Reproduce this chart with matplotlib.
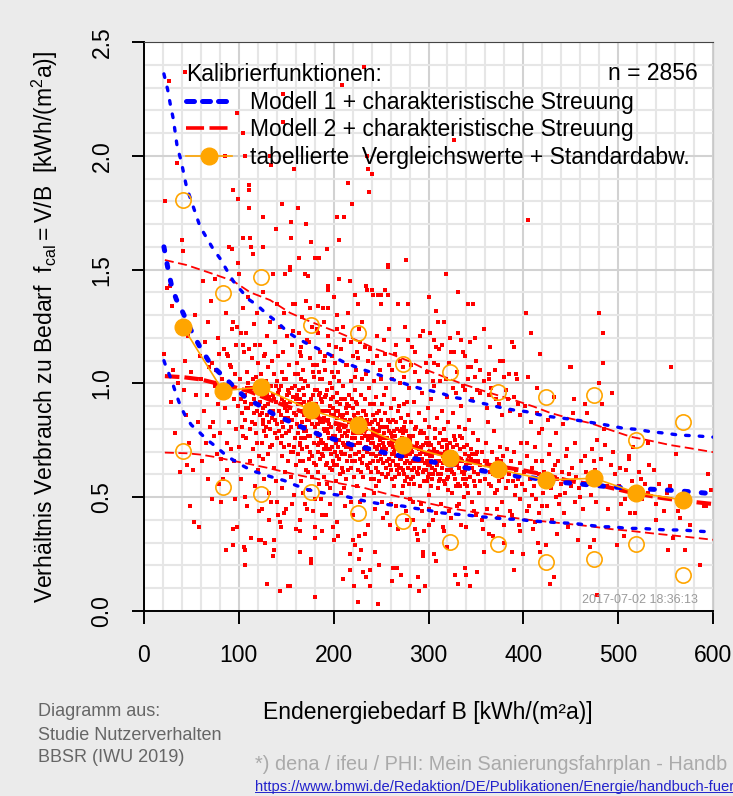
"""
Kalibrierfunktionen: Verhältnis Verbrauch zu Bedarf vs. Endenergiebedarf
"""

import matplotlib

matplotlib.use("Agg")
import matplotlib.pyplot as plt
from matplotlib.lines import Line2D
from matplotlib.ticker import MultipleLocator

plt.rcParams["font.family"] = ["Liberation Sans", "DejaVu Sans"]

# ── Theme ──────────────────────────────────────────────
BG = "#EBEBEB"
RED = "#FF0000"
BLUE = "#0000FF"
ORANGE = "#FFA500"

# ── Data: measured buildings (hand-read sample of the cloud) ──
cloud_020_100 = [
    (21, 1.13), (22, 1.80), (24, 1.42), (26, 2.33), (27, 1.43), (28, 0.92), (30, 1.34), (31, 1.06),
    (33, 0.78), (35, 1.97), (36, 1.00), (38, 0.61), (40, 1.63), (41, 1.58), (42, 0.97), (43, 1.10),
    (43, 2.37), (44, 0.86), (45, 0.64), (46, 1.21), (47, 0.74), (49, 0.46), (50, 1.05), (52, 0.62),
    (53, 0.39), (54, 1.30), (55, 0.95), (57, 0.83), (58, 0.37), (59, 1.12), (60, 1.02), (61, 0.66),
    (62, 1.45), (63, 0.88), (64, 1.18), (65, 0.74), (66, 0.95), (67, 1.27), (68, 0.58), (69, 1.07),
    (70, 0.81), (71, 1.36), (72, 0.49), (72, 1.09), (73, 0.83), (74, 0.77), (75, 1.46), (75, 0.99),
    (76, 1.06), (77, 0.69), (78, 1.20), (78, 0.91), (79, 0.56), (79, 1.13), (80, 0.78), (81, 0.67),
    (81, 0.48), (82, 1.02), (83, 0.58), (84, 1.15), (85, 2.00), (85, 0.89), (86, 0.27), (86, 1.31),
    (87, 0.74), (88, 0.62), (88, 1.13), (89, 1.12), (89, 0.96), (90, 1.60), (90, 0.83), (91, 1.08),
    (92, 1.07), (92, 0.71), (93, 1.59), (93, 1.24), (94, 1.85), (94, 0.36), (94, 0.29), (94, 1.27),
    (95, 0.93), (95, 0.66), (96, 0.49), (96, 1.04), (97, 0.80), (97, 1.17), (98, 2.19), (98, 0.37),
    (98, 1.25), (99, 0.90), (99, 1.53), (99, 1.81), (100, 0.72),
]
cloud_100_160 = [
    (100, 1.48), (101, 1.02), (102, 1.22), (102, 0.58), (103, 0.87), (104, 1.33), (104, 2.10), (104, 1.64),
    (104, 1.17), (105, 0.28), (105, 1.14), (106, 2.00), (106, 0.50), (106, 0.20), (107, 0.95), (107, 0.27),
    (108, 1.22), (108, 0.76), (109, 0.46), (109, 1.05), (110, 0.89), (110, 1.38), (111, 1.15), (111, 1.87),
    (111, 1.85), (111, 1.77), (112, 1.64), (112, 0.66), (113, 1.60), (113, 0.32), (113, 0.98), (114, 1.11),
    (114, 0.83), (115, 1.57), (115, 0.71), (116, 1.26), (116, 0.93), (117, 1.17), (117, 0.55), (118, 1.03),
    (118, 0.78), (119, 0.88), (119, 1.31), (120, 1.09), (120, 0.62), (120, 0.97), (110, 1.00), (103, 0.81),
    (107, 0.92), (115, 1.02), (121, 0.44), (121, 0.31), (122, 1.17), (122, 0.86), (123, 0.31), (123, 1.04),
    (124, 0.74), (124, 0.95), (125, 1.40), (125, 0.67), (126, 1.73), (126, 1.60), (126, 0.82), (127, 1.12),
    (127, 0.58), (128, 1.13), (128, 0.30), (128, 0.90), (129, 1.01), (129, 0.77), (130, 0.12), (130, 1.21),
    (130, 0.86), (131, 0.69), (131, 1.07), (132, 0.94), (132, 0.52), (133, 2.00), (133, 0.80), (133, 1.27),
    (134, 1.96), (134, 0.48), (134, 0.99), (135, 0.73), (135, 1.10), (136, 1.48), (136, 0.24), (136, 0.88),
    (137, 0.31), (137, 0.27), (137, 1.04), (137, 0.63), (138, 0.84), (138, 1.18), (139, 1.68), (139, 0.92),
    (139, 0.57), (140, 1.35), (140, 0.76), (140, 1.01), (124, 0.87), (128, 0.98), (132, 0.83), (136, 0.95),
    (131, 0.91), (141, 0.42), (141, 1.12), (142, 0.79), (142, 0.97), (143, 0.39), (143, 0.09), (143, 1.25),
    (144, 0.37), (144, 0.86), (145, 1.79), (145, 0.68), (145, 1.05), (146, 0.93), (146, 0.54), (147, 2.27),
    (147, 2.15), (147, 0.81), (147, 1.14), (148, 0.72), (148, 1.31), (149, 1.48), (149, 0.89), (149, 0.61),
    (150, 1.02), (150, 0.45), (150, 0.78), (151, 0.95), (151, 1.21), (152, 0.11), (152, 0.66), (152, 0.85),
    (153, 1.08), (153, 0.73), (154, 1.51), (154, 1.50), (154, 0.11), (154, 0.92), (155, 1.71), (155, 1.64),
    (155, 0.59), (155, 0.81), (156, 1.17), (156, 0.98), (157, 0.70), (157, 1.35), (157, 1.23), (158, 1.94),
    (158, 0.87), (158, 0.51), (159, 1.04), (159, 0.76), (159, 1.35), (160, 0.36), (160, 0.93), (160, 0.64),
    (144, 0.99), (148, 0.92), (151, 0.88), (156, 0.84), (153, 0.96),
]
cloud_160_220 = [
    (161, 1.09), (161, 0.82), (162, 1.77), (162, 0.69), (163, 1.55), (163, 0.97), (164, 0.26), (164, 0.88),
    (165, 0.40), (165, 1.14), (165, 0.74), (166, 1.02), (166, 0.57), (166, 0.91), (167, 0.83), (167, 1.29),
    (168, 0.66), (168, 1.06), (169, 0.79), (169, 0.95), (170, 1.48), (170, 0.47), (171, 1.70), (171, 1.36),
    (171, 0.87), (172, 0.72), (172, 1.19), (173, 1.47), (173, 0.99), (173, 0.61), (174, 0.84), (174, 0.53),
    (175, 1.11), (175, 0.77), (176, 1.62), (176, 0.23), (176, 0.21), (176, 0.93), (177, 0.68), (177, 1.25),
    (178, 0.86), (178, 0.44), (179, 1.03), (179, 0.74), (180, 0.06), (180, 0.37), (180, 0.32), (180, 1.55),
    (180, 0.81), (180, 0.97), (162, 0.78), (164, 0.93), (167, 0.71), (169, 0.86), (172, 0.90), (174, 0.67),
    (177, 0.82), (179, 0.89), (163, 1.22), (168, 0.52), (171, 0.62), (175, 1.33), (178, 1.08), (166, 1.16),
    (170, 0.76), (181, 0.91), (181, 0.64), (182, 1.08), (182, 0.78), (183, 0.86), (183, 1.22), (184, 1.34),
    (184, 0.70), (185, 1.55), (185, 0.95), (185, 0.56), (186, 0.83), (186, 1.14), (187, 0.75), (187, 0.49),
    (188, 0.35), (188, 0.92), (188, 1.02), (189, 1.33), (189, 0.68), (190, 0.80), (190, 1.27), (190, 0.59),
    (191, 0.88), (191, 1.06), (192, 0.73), (192, 0.42), (193, 1.59), (193, 0.97), (193, 0.65), (194, 1.41),
    (194, 1.33), (194, 1.43), (194, 0.84), (195, 0.76), (195, 1.17), (196, 0.54), (196, 0.90), (196, 1.00),
    (197, 0.69), (197, 0.81), (198, 1.12), (198, 0.62), (199, 0.37), (199, 0.94), (199, 0.77), (200, 1.38),
    (200, 0.31), (200, 0.86), (200, 1.03), (182, 0.97), (184, 0.82), (187, 0.88), (189, 0.74), (191, 0.79),
    (192, 0.95), (194, 0.71), (195, 0.88), (197, 0.93), (198, 0.72), (183, 0.61), (186, 0.67), (190, 0.71),
    (193, 0.56), (196, 0.63), (199, 0.66), (185, 1.05), (191, 1.12), (201, 0.70), (201, 1.09), (202, 0.82),
    (202, 0.57), (203, 0.96), (203, 1.24), (204, 1.73), (204, 1.30), (204, 0.75), (205, 0.33), (205, 0.88),
    (205, 1.05), (206, 1.63), (206, 1.46), (206, 0.67), (207, 0.91), (207, 0.79), (208, 1.15), (208, 0.52),
    (209, 2.31), (209, 0.85), (209, 0.63), (210, 0.14), (210, 0.99), (210, 0.74), (211, 1.73), (211, 0.81),
    (211, 1.19), (212, 0.69), (212, 0.93), (213, 0.58), (213, 1.08), (214, 0.77), (214, 0.87), (215, 1.31),
    (215, 1.88), (215, 0.62), (216, 0.95), (216, 0.72), (217, 1.45), (217, 0.18), (217, 0.25), (217, 0.84),
    (218, 0.48), (218, 1.01), (219, 1.79), (219, 0.76), (219, 0.66), (220, 0.31), (220, 0.89), (220, 1.12),
    (202, 0.74), (204, 0.92), (206, 0.81), (208, 0.70), (210, 0.86), (212, 0.78), (214, 0.66), (216, 0.83),
    (218, 0.71), (219, 0.93), (203, 0.64), (207, 0.60), (211, 0.54), (213, 0.89), (215, 0.79), (209, 0.77),
    (205, 0.72),
]
cloud_220_300 = [
    (221, 0.11), (221, 0.73), (222, 0.85), (222, 0.29), (223, 1.39), (223, 0.66), (224, 0.92), (224, 1.06),
    (225, 0.78), (225, 0.55), (226, 1.35), (226, 0.04), (226, 0.87), (227, 0.23), (227, 0.33), (227, 0.70),
    (228, 1.18), (228, 0.82), (229, 0.27), (229, 0.61), (229, 0.95), (230, 0.76), (230, 1.02), (231, 0.17),
    (231, 0.88), (231, 0.68), (232, 2.39), (232, 0.79), (232, 0.51), (233, 0.34), (233, 0.93), (234, 0.15),
    (234, 1.43), (234, 0.72), (235, 1.41), (235, 2.00), (235, 0.84), (236, 1.94), (236, 0.63), (236, 1.10),
    (237, 1.84), (237, 0.77), (238, 0.11), (238, 0.18), (238, 0.91), (239, 0.69), (239, 0.58), (240, 1.92),
    (240, 1.41), (240, 0.83), (222, 0.76), (224, 0.69), (226, 0.74), (228, 0.67), (230, 0.81), (232, 0.71),
    (234, 0.80), (236, 0.75), (238, 0.82), (239, 0.74), (223, 0.97), (225, 1.14), (227, 1.24), (229, 0.85),
    (233, 1.16), (235, 0.64), (237, 0.98), (221, 0.59), (241, 1.39), (241, 0.66), (242, 0.86), (242, 0.74),
    (243, 0.52), (243, 1.01), (244, 0.26), (244, 0.78), (245, 0.94), (245, 0.63), (246, 1.12), (246, 0.71),
    (247, 1.39), (247, 0.03), (247, 0.82), (248, 0.20), (248, 0.57), (248, 0.88), (249, 0.69), (249, 1.06),
    (250, 1.35), (250, 1.39), (250, 0.76), (251, 0.48), (251, 0.91), (252, 0.81), (252, 0.65), (253, 1.19),
    (253, 0.72), (254, 1.41), (254, 0.87), (255, 0.59), (255, 0.98), (256, 0.76), (256, 0.43), (257, 1.52),
    (257, 1.51), (257, 1.39), (257, 0.84), (258, 0.67), (258, 1.08), (259, 0.73), (259, 0.38), (260, 0.89),
    (260, 0.62), (242, 0.69), (244, 0.84), (246, 0.79), (248, 0.73), (250, 0.67), (252, 0.74), (254, 0.69),
    (256, 0.81), (258, 0.79), (243, 0.91), (245, 0.55), (247, 0.66), (249, 0.81), (251, 0.60), (253, 0.95),
    (255, 0.71), (259, 0.64), (261, 0.13), (261, 0.77), (262, 0.69), (262, 1.02), (263, 0.19), (263, 0.84),
    (264, 0.55), (264, 0.93), (265, 1.13), (265, 0.71), (266, 0.64), (266, 0.46), (267, 0.19), (267, 0.80),
    (268, 1.35), (268, 0.88), (269, 0.60), (269, 0.73), (270, 1.00), (270, 0.67), (271, 0.16), (271, 0.85),
    (272, 0.52), (272, 0.76), (273, 1.07), (273, 0.62), (274, 0.91), (274, 0.70), (275, 1.25), (275, 0.57),
    (276, 1.54), (276, 0.79), (277, 0.40), (277, 0.66), (278, 1.35), (278, 0.86), (279, 0.72), (279, 0.98),
    (280, 0.49), (280, 0.74), (262, 0.74), (264, 0.70), (266, 0.83), (268, 0.64), (270, 0.79), (272, 0.68),
    (274, 0.60), (276, 0.73), (278, 0.63), (263, 0.66), (265, 0.59), (267, 0.72), (269, 0.90), (271, 0.63),
    (273, 0.78), (275, 0.83), (277, 0.92), (279, 0.56), (281, 0.11), (281, 0.65), (282, 0.83), (282, 0.58),
    (283, 1.16), (283, 0.70), (284, 0.77), (284, 0.48), (285, 0.92), (285, 0.63), (286, 1.05), (286, 0.36),
    (287, 0.68), (287, 0.81), (288, 0.34), (288, 0.74), (289, 0.31), (289, 0.15), (289, 0.60), (290, 0.09),
    (290, 0.87), (290, 0.71), (291, 1.21), (291, 0.55), (292, 0.66), (292, 0.79), (293, 0.96), (293, 0.44),
    (294, 0.26), (294, 0.24), (294, 0.73), (295, 0.35), (295, 0.62), (296, 0.11), (296, 0.84), (297, 0.69),
    (297, 1.09), (298, 0.57), (298, 0.76), (299, 0.64), (299, 0.89), (300, 1.38), (300, 0.70), (300, 0.51),
    (284, 0.66), (286, 0.72), (288, 0.61), (291, 0.69), (293, 0.67), (295, 0.78), (297, 0.62), (299, 0.73),
]
cloud_300_400 = [
    (301, 0.45), (301, 0.81), (302, 1.22), (302, 0.64), (303, 0.73), (303, 0.93), (304, 0.58), (304, 0.68),
    (305, 1.01), (305, 0.40), (306, 1.09), (306, 1.19), (306, 0.25), (307, 0.76), (307, 0.62), (308, 1.32),
    (308, 1.16), (308, 0.22), (309, 0.70), (309, 0.85), (310, 1.27), (310, 0.54), (311, 1.15), (311, 0.66),
    (312, 1.01), (312, 0.78), (313, 0.47), (313, 0.60), (314, 0.72), (314, 0.88), (315, 0.37), (315, 0.65),
    (316, 1.27), (316, 0.80), (317, 0.56), (317, 0.69), (318, 1.48), (318, 0.75), (319, 0.28), (319, 0.62),
    (320, 0.94), (320, 0.71), (303, 0.66), (307, 0.70), (311, 0.74), (315, 0.68), (321, 0.59), (321, 0.83),
    (322, 0.67), (322, 0.44), (323, 1.20), (323, 0.74), (324, 1.14), (324, 0.62), (325, 0.70), (325, 0.52),
    (326, 0.87), (326, 0.64), (327, 2.07), (327, 1.14), (327, 0.77), (328, 0.16), (328, 0.58), (329, 0.68),
    (329, 0.96), (330, 0.73), (330, 0.46), (331, 1.40), (331, 1.22), (331, 0.12), (332, 0.63), (332, 0.81),
    (333, 0.55), (333, 0.71), (334, 0.90), (334, 0.38), (335, 0.66), (335, 0.76), (336, 1.14), (336, 0.99),
    (337, 0.60), (337, 0.50), (338, 1.12), (338, 0.69), (339, 0.19), (339, 0.80), (340, 0.16), (340, 0.64),
    (341, 0.73), (341, 0.55), (342, 1.35), (342, 1.07), (343, 0.68), (343, 0.84), (344, 1.18), (344, 0.11),
    (344, 0.59), (345, 1.07), (345, 0.71), (346, 0.48), (346, 0.63), (347, 1.35), (347, 0.78), (348, 0.57),
    (348, 0.66), (349, 1.20), (349, 1.03), (350, 0.69), (350, 0.42), (351, 0.97), (351, 0.17), (352, 0.60),
    (352, 0.75), (353, 0.52), (354, 1.06), (354, 0.64), (356, 0.70), (357, 0.36), (358, 0.26), (359, 1.24),
    (360, 0.58), (361, 0.74), (362, 0.66), (362, 0.45), (363, 0.83), (364, 1.04), (364, 1.02), (364, 0.95),
    (365, 1.16), (365, 0.61), (366, 0.55), (367, 0.70), (368, 0.33), (368, 0.64), (369, 0.79), (370, 0.52),
    (371, 0.93), (371, 0.60), (372, 0.67), (373, 0.41), (374, 0.57), (375, 1.10), (375, 0.72), (376, 0.63),
    (377, 0.48), (378, 0.59), (379, 1.10), (379, 0.68), (380, 1.03), (380, 0.30), (381, 0.62), (382, 0.54),
    (383, 0.71), (384, 0.93), (385, 1.04), (385, 0.60), (386, 0.44), (387, 0.66), (388, 1.18), (388, 0.26),
    (389, 0.57), (390, 1.16), (390, 0.18), (390, 0.70), (391, 0.51), (392, 1.04), (392, 0.62), (393, 1.02),
    (394, 0.91), (394, 0.58), (395, 0.38), (396, 0.65), (397, 0.49), (398, 0.74), (399, 0.56), (400, 0.25),
]
cloud_400_600 = [
    (401, 0.61), (402, 0.53), (403, 1.31), (404, 0.68), (405, 1.72), (405, 1.03), (406, 0.46), (407, 0.58),
    (408, 1.22), (409, 0.63), (410, 0.36), (411, 0.55), (412, 0.72), (413, 0.49), (414, 0.98), (415, 0.30),
    (416, 0.60), (417, 0.43), (418, 1.13), (418, 0.26), (419, 0.57), (420, 0.66), (421, 0.52), (422, 0.61),
    (424, 0.29), (425, 0.46), (426, 0.57), (427, 0.69), (428, 0.12), (429, 0.54), (430, 0.40), (431, 0.62),
    (432, 0.94), (432, 0.15), (434, 0.50), (435, 0.58), (436, 0.34), (437, 0.66), (438, 0.47), (440, 0.56),
    (441, 0.61), (443, 0.43), (444, 0.52), (446, 0.71), (447, 0.37), (449, 1.07), (450, 1.07), (450, 0.55),
    (451, 0.63), (452, 0.87), (453, 0.93), (454, 0.48), (456, 0.59), (458, 0.31), (459, 0.54), (461, 0.66),
    (463, 0.45), (465, 0.91), (465, 0.68), (467, 0.87), (468, 0.57), (470, 0.28), (471, 0.51), (474, 0.66),
    (475, 0.31), (476, 0.62), (478, 0.75), (478, 0.07), (480, 1.00), (480, 1.31), (481, 0.58), (483, 0.91),
    (484, 1.22), (484, 1.09), (485, 0.80), (486, 0.73), (489, 0.45), (492, 0.64), (493, 0.96), (497, 0.60),
    (499, 0.29), (501, 0.55), (503, 0.47), (506, 0.33), (508, 0.62), (511, 0.68), (511, 0.67), (513, 0.43),
    (515, 0.57), (518, 0.43), (519, 0.52), (522, 0.61), (525, 0.49), (528, 0.56), (531, 0.74), (531, 0.52),
    (533, 0.64), (538, 0.62), (540, 0.40), (540, 0.47), (543, 0.56), (548, 0.44), (552, 0.52), (553, 0.27),
    (555, 0.55), (556, 1.07), (558, 0.32), (561, 0.69), (563, 0.44), (565, 0.41), (567, 0.46), (571, 0.27),
    (576, 0.38), (586, 0.20), (590, 0.46), (593, 0.46), (595, 0.60), (598, 0.53),
]
# densest part of the cloud (roughly 100-390 kWh, ratio 0.5-1.0)
cloud_core = [
    (142, 0.88), (146, 0.83), (150, 0.91), (153, 0.79), (157, 0.94), (160, 0.86), (163, 0.81), (166, 0.76),
    (169, 0.92), (172, 0.84), (175, 0.70), (178, 0.95), (181, 0.87), (184, 0.77), (187, 0.93), (190, 0.85),
    (193, 0.80), (196, 0.71), (199, 0.89), (202, 0.88), (205, 0.80), (208, 0.93), (211, 0.73), (214, 0.91),
    (217, 0.68), (220, 0.78), (223, 0.83), (226, 0.62), (229, 0.78), (232, 0.88), (235, 0.70), (238, 0.65),
    (241, 0.80), (244, 0.72), (247, 0.61), (250, 0.84), (253, 0.78), (256, 0.66), (259, 0.83), (262, 0.58),
    (265, 0.77), (268, 0.71), (271, 0.67), (274, 0.81), (277, 0.59), (280, 0.69), (283, 0.62), (286, 0.80),
    (289, 0.67), (292, 0.72), (295, 0.57), (298, 0.66), (301, 0.74), (304, 0.63), (307, 0.80), (310, 0.60),
    (313, 0.69), (316, 0.57), (319, 0.73), (322, 0.64), (325, 0.61), (328, 0.75), (331, 0.56), (334, 0.67),
    (337, 0.72), (340, 0.58), (343, 0.63), (346, 0.69), (349, 0.55), (352, 0.66), (144, 0.74), (148, 1.02),
    (152, 0.97), (155, 0.70), (159, 0.99), (162, 0.91), (165, 0.66), (168, 0.98), (171, 0.79), (174, 0.92),
    (177, 0.59), (180, 0.89), (183, 0.73), (186, 0.96), (189, 0.83), (192, 0.64), (195, 0.82), (198, 0.98),
    (201, 0.77), (204, 0.68), (207, 0.86), (210, 0.61), (213, 0.72), (216, 0.90), (219, 0.82), (222, 0.69),
    (225, 0.91), (228, 0.74), (231, 0.59), (234, 0.86), (237, 0.71), (240, 0.76), (243, 0.58), (246, 0.87),
    (249, 0.75), (252, 0.70), (255, 0.63), (258, 0.74), (261, 0.69), (264, 0.79), (267, 0.62), (270, 0.72),
    (273, 0.55), (276, 0.68), (279, 0.77), (282, 0.71), (285, 0.56), (288, 0.66), (291, 0.78), (294, 0.61),
    (297, 0.74), (300, 0.60), (303, 0.55), (306, 0.71), (309, 0.64), (312, 0.58), (315, 0.75), (318, 0.66),
    (321, 0.53), (324, 0.68), (327, 0.60), (330, 0.64), (333, 0.77), (336, 0.58), (339, 0.62), (342, 0.52),
    (345, 0.67), (348, 0.61), (351, 0.70), (354, 0.57), (141, 0.96), (145, 0.77), (149, 0.85), (154, 0.89),
    (158, 0.72), (161, 0.95), (164, 0.73), (167, 0.88), (170, 0.81), (173, 0.77), (176, 0.86), (179, 0.65),
    (182, 0.82), (185, 0.74), (188, 0.69), (191, 0.94), (194, 0.78), (197, 0.86), (200, 0.64), (203, 0.85),
    (206, 0.75), (209, 0.69), (212, 0.84), (215, 0.74), (218, 0.63), (221, 0.86), (224, 0.78), (227, 0.81),
    (230, 0.65), (233, 0.77), (236, 0.82), (239, 0.61), (242, 0.78), (245, 0.68), (248, 0.79), (251, 0.71),
    (254, 0.76), (257, 0.60), (260, 0.78), (263, 0.72), (266, 0.68), (269, 0.63), (272, 0.80), (275, 0.65),
    (278, 0.70), (281, 0.75), (284, 0.59), (287, 0.72), (290, 0.63), (293, 0.70), (296, 0.65), (299, 0.59),
    (302, 0.68), (305, 0.60), (308, 0.66), (311, 0.57), (314, 0.63), (317, 0.70), (320, 0.58), (323, 0.66),
    (326, 0.72), (329, 0.55), (332, 0.66), (335, 0.61), (338, 0.56), (344, 0.65), (356, 0.62), (360, 0.66),
    (364, 0.56), (368, 0.60), (372, 0.53), (376, 0.66), (384, 0.57), (392, 0.55), (102, 0.93), (106, 0.84),
    (109, 0.98), (112, 0.80), (116, 0.87), (119, 0.74), (122, 0.92), (125, 0.84), (127, 0.79), (130, 0.95),
    (133, 0.72), (135, 0.85), (138, 0.78), (139, 0.99), (104, 0.77), (108, 0.89), (113, 0.91), (117, 0.82),
    (121, 0.68), (126, 0.89), (129, 0.81), (134, 0.88), (137, 0.93), (140, 0.82),
]
# shoulders of the cloud above and below the core
cloud_shoulders = [
    (162, 1.04), (166, 1.12), (170, 1.01), (174, 1.18), (178, 1.05), (182, 1.24), (186, 1.02), (190, 1.10),
    (194, 1.21), (198, 1.05), (202, 1.16), (206, 1.01), (210, 1.25), (214, 1.08), (218, 1.18), (222, 1.03),
    (226, 1.11), (230, 1.27), (234, 1.04), (238, 1.15), (242, 1.09), (246, 1.21), (250, 1.02), (254, 1.13),
    (258, 1.24), (262, 1.06), (266, 1.17), (270, 1.10), (274, 1.03), (278, 1.19), (282, 1.08), (286, 1.14),
    (290, 1.01), (294, 1.23), (298, 1.05), (302, 1.12), (306, 0.99), (310, 1.08), (314, 1.17), (318, 1.02),
    (322, 1.09), (326, 0.98), (330, 1.05), (334, 1.19), (338, 0.97), (342, 1.02), (346, 0.93), (350, 1.10),
    (354, 0.96), (358, 1.01), (362, 0.89), (366, 0.98), (370, 1.06), (374, 0.91), (378, 0.86), (382, 0.97),
    (386, 0.88), (390, 0.94), (396, 0.86), (402, 0.90), (408, 0.83), (414, 0.87), (420, 0.80), (426, 0.84),
    (434, 0.78), (442, 0.82), (124, 0.45), (132, 0.40), (140, 0.48), (148, 0.43), (156, 0.47), (164, 0.35),
    (172, 0.45), (180, 0.49), (188, 0.42), (196, 0.47), (204, 0.39), (212, 0.46), (220, 0.42), (228, 0.48),
    (236, 0.38), (244, 0.45), (252, 0.41), (260, 0.47), (268, 0.36), (276, 0.44), (284, 0.40), (292, 0.47),
    (300, 0.38), (308, 0.43), (316, 0.35), (324, 0.41), (332, 0.47), (340, 0.37), (348, 0.44), (356, 0.40),
    (364, 0.34), (372, 0.45), (380, 0.38), (388, 0.42), (396, 0.35), (404, 0.44), (412, 0.39), (420, 0.46),
    (404, 0.74), (409, 0.51), (413, 0.66), (417, 0.78), (423, 0.55), (428, 0.73), (433, 0.64), (439, 0.51),
    (445, 0.68), (448, 0.60), (455, 0.74), (460, 0.50), (466, 0.61), (472, 0.71), (477, 0.48), (482, 0.67),
    (488, 0.55), (495, 0.70), (502, 0.63), (507, 0.49), (516, 0.72), (524, 0.58),
]

# ── Data: Modell 1 (centre + characteristic scatter band) ──
m1_x = [21, 25, 29, 34, 40, 50, 59, 71, 84, 96, 108, 124, 138, 154, 169, 186, 203, 219, 238,
        256, 275, 293, 312, 333, 351, 372, 391, 411, 435, 455, 474, 494, 514, 535, 557, 579, 600]
m1_y = [1.60, 1.51, 1.43, 1.37, 1.32, 1.23, 1.16, 1.08, 1.03, 0.98, 0.934, 0.898, 0.861, 0.832,
        0.803, 0.773, 0.751, 0.730, 0.712, 0.693, 0.678, 0.663, 0.649, 0.634, 0.620, 0.605, 0.594,
        0.584, 0.567, 0.560, 0.552, 0.545, 0.539, 0.535, 0.530, 0.523, 0.515]
m1_up_x = [21, 25, 28, 31, 35, 39, 45, 50, 59, 66, 73, 80, 87, 94, 102, 110, 119, 128, 142, 151,
           159, 170, 180, 190, 200, 210, 221, 232, 243, 255, 267, 279, 291, 303, 314, 326, 339,
           352, 365, 377, 390, 403, 415, 428, 442, 454, 481, 493, 505, 520, 534, 550, 564, 580, 600]
m1_up_y = [2.36, 2.29, 2.22, 2.16, 2.04, 1.98, 1.86, 1.80, 1.69, 1.64, 1.59, 1.55, 1.50, 1.45,
           1.41, 1.37, 1.345, 1.31, 1.264, 1.227, 1.205, 1.179, 1.159, 1.14, 1.117, 1.095, 1.076,
           1.059, 1.044, 1.027, 1.011, 0.993, 0.978, 0.967, 0.956, 0.939, 0.930, 0.917, 0.905,
           0.893, 0.883, 0.876, 0.864, 0.854, 0.847, 0.840, 0.822, 0.813, 0.803, 0.798, 0.788,
           0.781, 0.773, 0.770, 0.764]
m1_lo_x = [21, 23, 29, 33, 38, 44, 50, 56, 66, 75, 84, 93, 103, 114, 125, 136, 148, 159, 171, 182,
           196, 209, 221, 233, 246, 260, 273, 286, 298, 312, 326, 340, 355, 368, 381, 395, 409,
           423, 437, 453, 483, 495, 509, 524, 539, 552, 567, 583, 600]
m1_lo_y = [1.10, 1.076, 1.015, 0.964, 0.905, 0.854, 0.817, 0.795, 0.754, 0.725, 0.693, 0.666,
           0.641, 0.616, 0.602, 0.587, 0.573, 0.554, 0.535, 0.524, 0.514, 0.507, 0.495, 0.483,
           0.473, 0.466, 0.461, 0.451, 0.444, 0.432, 0.426, 0.422, 0.414, 0.410, 0.404, 0.403,
           0.395, 0.392, 0.388, 0.385, 0.370, 0.370, 0.363, 0.363, 0.359, 0.356, 0.356, 0.351, 0.347]

# ── Data: Modell 2 (centre + characteristic scatter band) ──
m2_x = [22, 42, 59, 77, 94, 112, 129, 147, 165, 189, 207, 228, 250, 270, 302, 326, 350, 375, 400,
        425, 450, 481, 509, 545, 569, 600]
m2_y = [1.032, 1.027, 1.018, 1.00, 0.985, 0.964, 0.934, 0.905, 0.878, 0.84, 0.82, 0.795, 0.765,
        0.74, 0.70, 0.68, 0.652, 0.635, 0.618, 0.597, 0.57, 0.552, 0.525, 0.497, 0.484, 0.470]
m2_up_x = [22, 45, 70, 94, 112, 133, 154, 171, 189, 207, 224, 245, 263, 281, 298, 323, 337, 355,
           372, 393, 411, 428, 449, 471, 492, 513, 534, 555, 576, 600]
m2_up_y = [1.542, 1.52, 1.485, 1.45, 1.40, 1.366, 1.31, 1.279, 1.249, 1.22, 1.19, 1.15, 1.125,
           1.095, 1.059, 1.018, 0.996, 0.971, 0.949, 0.923, 0.898, 0.871, 0.846, 0.825, 0.795,
           0.766, 0.748, 0.729, 0.715, 0.698]
m2_lo_x = [22, 45, 60, 77, 91, 112, 129, 147, 165, 189, 207, 233, 260, 295, 325, 355, 380, 407,
           442, 471, 492, 513, 534, 555, 576, 600]
m2_lo_y = [0.696, 0.693, 0.687, 0.675, 0.662, 0.645, 0.63, 0.612, 0.595, 0.575, 0.56, 0.54, 0.51,
           0.478, 0.45, 0.43, 0.415, 0.40, 0.385, 0.372, 0.36, 0.352, 0.342, 0.333, 0.324, 0.313]

# ── Data: tabulated comparison values ± standard deviation ──
tab_x = [41, 83, 123, 176, 226, 273, 323, 373, 424, 475, 519, 568]
tab_mean = [1.25, 0.968, 0.983, 0.883, 0.817, 0.729, 0.671, 0.623, 0.576, 0.583, 0.52, 0.488]
tab_upper = [1.806, 1.396, 1.469, 1.257, 1.22, 1.084, 1.051, 0.963, 0.942, 0.949, 0.751, 0.829]
tab_lower = [0.703, 0.546, 0.514, 0.521, 0.429, 0.397, 0.302, 0.293, 0.214, 0.228, 0.293, 0.158]

n_buildings = 2856

# ── Figure ─────────────────────────────────────────────
fig = plt.figure(figsize=(7.33, 7.96), dpi=100)
fig.patch.set_facecolor(BG)
ax = fig.add_axes([144 / 733, 1 - 611 / 796, 569 / 733, 569 / 796])
ax.set_facecolor("white")

ax.set_xlim(0, 600)
ax.set_ylim(0, 2.5)
ax.xaxis.set_major_locator(MultipleLocator(100))
ax.xaxis.set_minor_locator(MultipleLocator(20))
ax.yaxis.set_major_locator(MultipleLocator(0.5))
ax.yaxis.set_minor_locator(MultipleLocator(0.1))
ax.grid(which="minor", color="#E6E6E6", linewidth=1.5)
ax.grid(which="major", color="#D2D2D2", linewidth=1.5)
ax.set_axisbelow(True)

# Scatter cloud
cloud = (cloud_020_100 + cloud_100_160 + cloud_160_220 + cloud_220_300
         + cloud_300_400 + cloud_400_600 + cloud_core + cloud_shoulders)
ax.scatter([p[0] for p in cloud], [p[1] for p in cloud], s=7, marker="s",
           color=RED, linewidths=0, zorder=2)

# Modell 2 (red dashed)
ax.plot(m2_up_x, m2_up_y, color=RED, lw=1.3, ls=(0, (5, 2.5)), zorder=3)
ax.plot(m2_lo_x, m2_lo_y, color=RED, lw=1.3, ls=(0, (5, 2.5)), zorder=3)
ax.plot(m2_x, m2_y, color=RED, lw=3.0, ls=(0, (3.5, 1.2)), zorder=3)

# Modell 1 (blue dotted)
ax.plot(m1_up_x, m1_up_y, color=BLUE, lw=2.4, ls=(0, (1.1, 3.0)),
        dash_capstyle="round", zorder=4)
ax.plot(m1_lo_x, m1_lo_y, color=BLUE, lw=2.4, ls=(0, (1.1, 3.0)),
        dash_capstyle="round", zorder=4)
ax.plot(m1_x, m1_y, color=BLUE, lw=3.6, ls=(0, (0.8, 2.6)),
        dash_capstyle="round", zorder=4)

# Tabulated values
ax.plot(tab_x, tab_upper, ls="none", marker="o", ms=11, mfc="none", mec=ORANGE, mew=1.2, zorder=5)
ax.plot(tab_x, tab_lower, ls="none", marker="o", ms=11, mfc="none", mec=ORANGE, mew=1.2, zorder=5)
ax.plot(tab_x, tab_mean, color=ORANGE, lw=1.2, marker="o", ms=12, mfc=ORANGE, mec=ORANGE, zorder=6)

# Axes styling
for side in ("left", "bottom"):
    ax.spines[side].set_linewidth(1.4)
    ax.spines[side].set_color("black")
ax.spines["top"].set_color("#444444")
ax.spines["top"].set_linewidth(0.8)
ax.spines["right"].set_color("#C8C8C8")
ax.spines["right"].set_linewidth(1.0)
ax.tick_params(which="major", direction="out", length=9, width=1.4, labelsize=16.5, color="black")
ax.tick_params(which="minor", length=0)
ax.tick_params(axis="x", pad=15)
ax.tick_params(axis="y", pad=13)
ax.set_xticks([0, 100, 200, 300, 400, 500, 600])
ax.set_xticklabels(["0", "100", "200", "300", "400", "500", "600"])
ax.set_yticks([0.0, 0.5, 1.0, 1.5, 2.0, 2.5])
ax.set_yticklabels(["0.0", "0.5", "1.0", "1.5", "2.0", "2.5"], rotation=90, va="center")

# Legend
handles = [
    Line2D([], [], color=BLUE, lw=3.6, ls=(0, (1.6, 1.6)), dash_capstyle="round"),
    Line2D([], [], color=RED, lw=2.6, ls=(0, (5, 1.5))),
    Line2D([], [], color=ORANGE, lw=1.2, marker="o", ms=12),
]
labels = [
    "Modell 1 + charakteristische Streuung",
    "Modell 2 + charakteristische Streuung",
    "tabellierte  Vergleichswerte + Standardabw.",
]
leg = ax.legend(handles, labels, loc="upper left", bbox_to_anchor=(0.074, 0.963),
                frameon=False, fontsize=16.5, title="Kalibrierfunktionen:",
                title_fontsize=16.5, alignment="left", handlelength=2.0,
                handletextpad=0.8, labelspacing=0.2, borderpad=0, borderaxespad=0)
leg.set_zorder(10)
ax.text(0.974, 0.9455, f"n = {n_buildings}", transform=ax.transAxes, ha="right", va="center",
        fontsize=16.5, zorder=10)

ax.text(0.974, 0.02, "2017-07-02 18:36:13", transform=ax.transAxes, ha="right", va="center",
        fontsize=9, color="#9A9A9A", zorder=10)

# Axis titles
fig.text(428 / 733, 1 - 712 / 796, "Endenergiebedarf B [kWh/(m²a)]", ha="center", va="center",
         fontsize=16.5)
fig.text(45 / 733, 1 - 327 / 796,
         r"Verhältnis Verbrauch zu Bedarf  $\mathregular{f_{cal} = V/B}$  [kWh/(m$\mathregular{^2}$a)]",
         rotation=90, ha="center", va="center", fontsize=16.5)

# Source notes
for i, line in enumerate(["Diagramm aus:", "Studie Nutzerverhalten", "BBSR (IWU 2019)"]):
    fig.text(38 / 733, 1 - (712 + 23 * i) / 796, line, ha="left", va="center",
             fontsize=13, color="#666666")
fig.text(255 / 733, 1 - 765 / 796,
         "*) dena / ifeu / PHI: Mein Sanierungsfahrplan - Handb",
         ha="left", va="center", fontsize=14.3, color="#AAAAAA")
url = fig.text(255 / 733, 1 - 787 / 796,
               "https://www.bmwi.de/Redaktion/DE/Publikationen/Energie/handbuch-fuer",
               ha="left", va="center", fontsize=10.6, color="#2222CC")

fig.canvas.draw()
bb = url.get_window_extent().transformed(fig.transFigure.inverted())
fig.add_artist(Line2D([bb.x0, bb.x1], [bb.y0 + 0.002, bb.y0 + 0.002], color="#2222CC",
                      lw=0.7, transform=fig.transFigure))

fig.savefig("out.png", dpi=100, facecolor=BG)
plt.close(fig)
